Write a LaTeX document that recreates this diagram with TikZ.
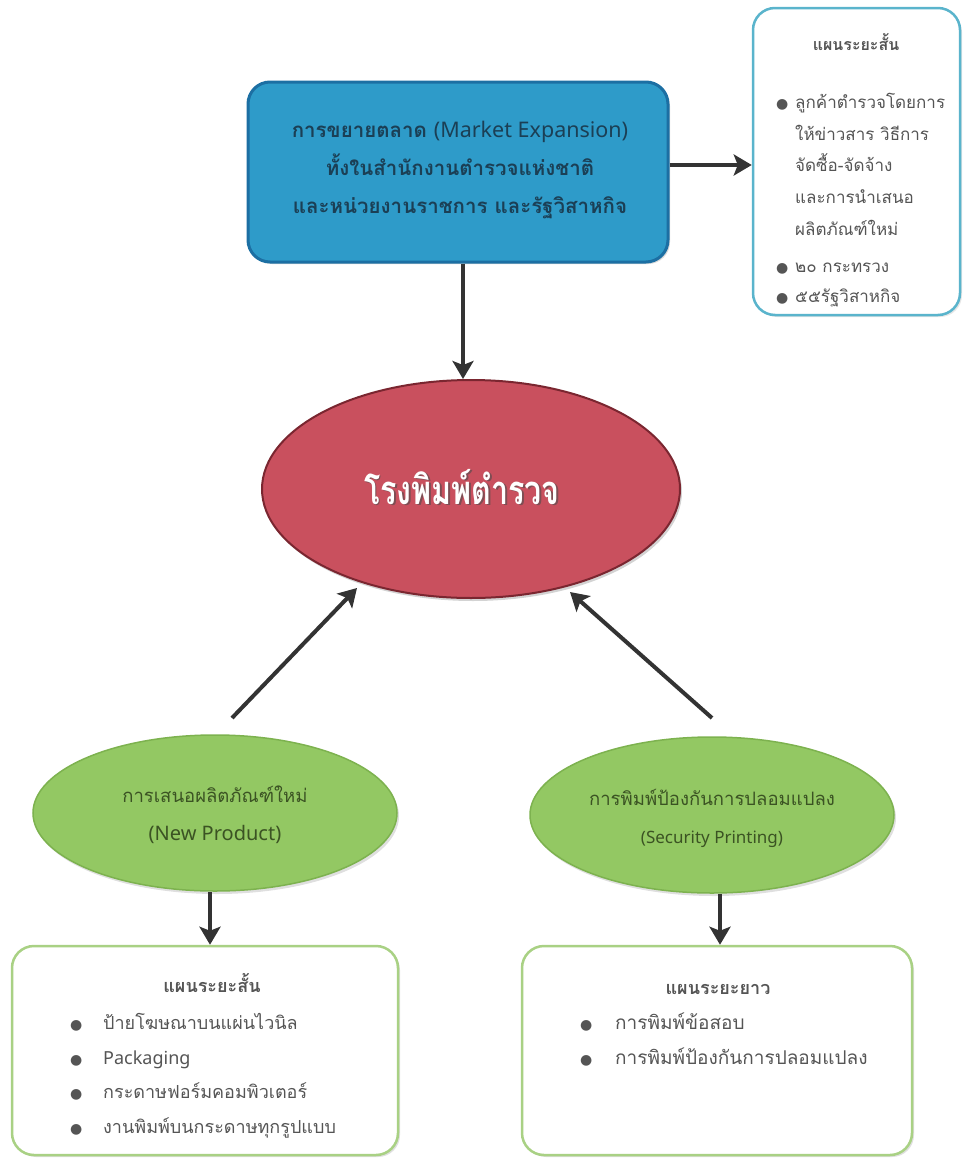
\documentclass[tikz,border=0pt]{standalone}
\usepackage{fontspec}
\newfontfamily\thai[Script=Thai]{Loma}
\newfontfamily\lat{Noto Sans}
\newfontfamily\dv{DejaVu Sans}
\usetikzlibrary{shapes.geometric,arrows.meta,shadows}
\definecolor{blueFill}{HTML}{2E9BC9}
\definecolor{blueDraw}{HTML}{1C6FA3}
\definecolor{blueText}{HTML}{1B3F55}
\definecolor{tealDraw}{HTML}{5AB4CC}
\definecolor{redFill}{HTML}{C9505E}
\definecolor{redDraw}{HTML}{7A2630}
\definecolor{greenFill}{HTML}{93C863}
\definecolor{greenDraw}{HTML}{7DB24F}
\definecolor{greenText}{HTML}{3B5323}
\definecolor{greenBox}{HTML}{A9D184}
\definecolor{arrowCol}{HTML}{333333}
\definecolor{grayText}{HTML}{555555}
\newcommand{\bul}{{\dv\fontsize{14pt}{14pt}\selectfont ●}}
\tikzset{
  bluebox/.style={draw=blueDraw, line width=3pt, fill=blueFill, rounded corners=22pt,
    drop shadow={shadow xshift=2pt, shadow yshift=-2pt, opacity=0.3}},
  listbox/.style={draw=#1, line width=2.5pt, fill=white, rounded corners=22pt},
  redell/.style={ellipse, draw=redDraw, line width=2pt, fill=redFill,
    drop shadow={shadow xshift=2pt, shadow yshift=-3pt, opacity=0.35}},
  greenell/.style={ellipse, draw=greenDraw, line width=1.5pt, fill=greenFill,
    drop shadow={shadow xshift=2pt, shadow yshift=-3pt, opacity=0.25}},
  conn/.style={draw=arrowCol, line width=4pt, -{Stealth[length=18pt,width=21pt,inset=4pt]}},
  txt/.style={inner sep=0pt, anchor=base west, text=grayText},
  ttl/.style={inner sep=0pt, anchor=base, text=grayText},
}
\begin{document}
\begin{tikzpicture}[x=1pt,y=1pt]
\useasboundingbox (0,0) rectangle (963,-1159);
% top blue box
\node[bluebox, minimum width=420pt, minimum height=180pt] (mkt) at (458,-172) {};
\node[inner sep=0pt, align=center, text=blueText, font=\thai\bfseries\fontsize{20.5pt}{38pt}\selectfont] (mkttxt) at (460,-170)
  {การขยายตลาด {\lat\mdseries\fontsize{21.5pt}{24pt}\selectfont(Market Expansion)}\\ทั้งในสำนักงานตำรวจแห่งชาติ\\และหน่วยงานราชการ และรัฐวิสาหกิจ};
% top right box
\node[listbox=tealDraw, minimum width=207pt, minimum height=307pt,
  drop shadow={shadow xshift=2pt, shadow yshift=-2pt, opacity=0.2}] (trbox) at (856.5,-161.5) {};
\begin{scope}[font=\thai\fontsize{17pt}{20pt}\selectfont]
\node[ttl, font=\thai\bfseries\fontsize{16pt}{18pt}\selectfont] (trt) at (856,-50) {แผนระยะสั้น};
\node[txt] (tr1) at (795,-108) {ลูกค้าตำรวจโดยการ};
\node[txt] (tr2) at (795,-140) {ให้ข่าวสาร วิธีการ};
\node[txt] (tr3) at (795,-171) {จัดซื้อ-จัดจ้าง};
\node[txt] (tr4) at (795,-203) {และการนำเสนอ};
\node[txt] (tr5) at (795,-235) {ผลิตภัณฑ์ใหม่};
\node[txt] (tr6) at (795,-272) {๒๐ กระทรวง};
\node[txt] (tr7) at (795,-302) {๕๕รัฐวิสาหกิจ};
\node[txt] (trb1) at (776,-108) {\bul};
\node[txt] (trb2) at (776,-272) {\bul};
\node[txt] (trb3) at (776,-302) {\bul};
\end{scope}
% red ellipse
\node[redell, minimum width=418pt, minimum height=218pt] (core) at (471,-489) {};
\node[inner sep=0pt, font=\thai\bfseries\fontsize{40pt}{42pt}\selectfont, text=black!70, opacity=0.6] (coreshadow) at (463.5,-488.5) {\scalebox{0.76}[1]{โรงพิมพ์ตำรวจ}};
\node[inner sep=0pt, font=\thai\bfseries\fontsize{40pt}{42pt}\selectfont, text=white] (coretxt) at (462,-487) {\scalebox{0.76}[1]{โรงพิมพ์ตำรวจ}};
% green ellipses
\node[greenell, minimum width=364pt, minimum height=156pt] (newp) at (215,-813) {};
\node[inner sep=0pt, align=center, text=greenText, font=\thai\fontsize{18.5pt}{38pt}\selectfont] (newptxt) at (215,-815)
  {การเสนอผลิตภัณฑ์ใหม่\\{\lat\fontsize{20pt}{22pt}\selectfont(New Product)}};
\node[greenell, minimum width=364pt, minimum height=156pt] (secp) at (712,-815) {};
\node[inner sep=0pt, align=center, text=greenText, font=\thai\fontsize{18.5pt}{38pt}\selectfont] (secptxt) at (712,-818)
  {การพิมพ์ป้องกันการปลอมแปลง\\{\lat\fontsize{17pt}{20pt}\selectfont(Security Printing)}};
% bottom boxes
\node[listbox=greenBox, minimum width=386pt, minimum height=209pt,
  drop shadow={shadow xshift=2pt, shadow yshift=-2pt, opacity=0.25}] (blbox) at (205,-1050.5) {};
\node[listbox=greenBox, minimum width=390pt, minimum height=209pt,
  drop shadow={shadow xshift=2pt, shadow yshift=-2pt, opacity=0.25}] (brbox) at (717,-1050.5) {};
\begin{scope}[font=\thai\fontsize{18pt}{22pt}\selectfont]
\node[ttl, font=\thai\bfseries\fontsize{18pt}{20pt}\selectfont] (blt) at (212,-992) {แผนระยะสั้น};
\node[txt] (bl1) at (103,-1029) {ป้ายโฆษณาบนแผ่นไวนิล};
\node[txt] (bl2) at (103,-1064) {{\lat\fontsize{18pt}{20pt}\selectfont Packaging}};
\node[txt] (bl3) at (103,-1098) {กระดาษฟอร์มคอมพิวเตอร์};
\node[txt] (bl4) at (103,-1133) {งานพิมพ์บนกระดาษทุกรูปแบบ};
\node[txt] (blb1) at (70,-1029) {\bul};
\node[txt] (blb2) at (70,-1064) {\bul};
\node[txt] (blb3) at (70,-1098) {\bul};
\node[txt] (blb4) at (70,-1133) {\bul};
\end{scope}
\begin{scope}[font=\thai\fontsize{19pt}{22pt}\selectfont]
\node[ttl, font=\thai\bfseries\fontsize{18pt}{20pt}\selectfont] (brt) at (718,-994) {แผนระยะยาว};
\node[txt] (br1) at (615,-1029) {การพิมพ์ข้อสอบ};
\node[txt] (br2) at (615,-1064) {การพิมพ์ป้องกันการปลอมแปลง};
\node[txt] (brb1) at (580,-1029) {\bul};
\node[txt] (brb2) at (580,-1064) {\bul};
\end{scope}
% connectors
\coordinate (a1s) at (668,-165);
\coordinate (a1e) at (752,-165);
\draw[conn] (mkt.east |- a1s) -- (trbox.west |- a1e);
\draw[conn] (mkt.south -| 463,0) -- (core.north -| 463,0);
\coordinate (a3s) at (232,-718);
\coordinate (a3e) at (357,-588);
\draw[conn] (a3s) -- (a3e);
\coordinate (a4s) at (712,-718);
\coordinate (a4e) at (570,-592);
\draw[conn] (a4s) -- (a4e);
\draw[conn] (newp.south -| 210,0) -- (blbox.north -| 210,0);
\draw[conn] (secp.south -| 720,0) -- (brbox.north -| 720,0);
\end{tikzpicture}
\end{document}
